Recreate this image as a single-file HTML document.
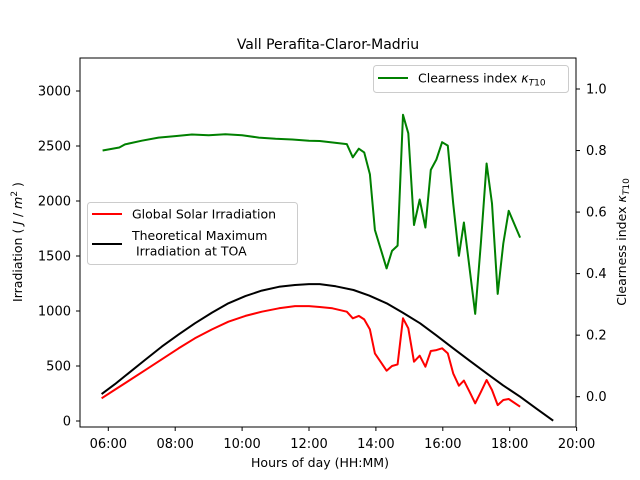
<!DOCTYPE html>
<html><head><meta charset="utf-8"><style>
body{margin:0;background:#fff;}
svg{display:block;font-family:"DejaVu Sans","Liberation Sans",sans-serif;}
</style></head><body>
<svg id="chart" width="640" height="480" viewBox="0 0 640 480" xmlns="http://www.w3.org/2000/svg">
<rect width="640" height="480" fill="#fff"/>
<text x="328" y="49" font-size="14" text-anchor="middle">Vall Perafita-Claror-Madriu</text>
<g id="marks"></g>
<rect x="80" y="58" width="496" height="369" fill="none" stroke="#000" stroke-width="1"/>
<g id="axes" font-size="13"></g>
<text x="320" y="467" font-size="12.5" text-anchor="middle">Hours of day (HH:MM)</text>
<text transform="translate(22,242) rotate(-90)" font-size="12.5" text-anchor="middle">Irradiation  ( <tspan font-style="italic">J</tspan> / <tspan font-style="italic">m</tspan><tspan dy="-5" font-size="9">2</tspan><tspan dy="5"> )</tspan></text>
<text transform="translate(626,242) rotate(-90)" font-size="12.5" text-anchor="middle">Clearness index <tspan font-style="italic">κ</tspan><tspan font-size="9" dy="3" font-style="italic">T</tspan><tspan font-size="9">10</tspan></text>
<g>
<rect x="87.5" y="202.5" width="210" height="62" rx="3" fill="#fff" fill-opacity="0.8" stroke="#ccc"/>
<line x1="92" y1="214" x2="122" y2="214" stroke="red" stroke-width="2"/>
<text x="132" y="218.5" font-size="12.5">Global Solar Irradiation</text>
<line x1="92" y1="244" x2="122" y2="244" stroke="#000" stroke-width="2"/>
<text x="132" y="240" font-size="12.5">Theoretical Maximum</text>
<text x="136" y="255.5" font-size="12.5">Irradiation at TOA</text>
</g>
<g>
<rect x="373.5" y="65.5" width="195" height="27" rx="3" fill="#fff" fill-opacity="0.8" stroke="#ccc"/>
<line x1="378" y1="78" x2="408" y2="78" stroke="green" stroke-width="2"/>
<text x="418" y="82.5" font-size="12.5">Clearness index <tspan font-style="italic">κ</tspan><tspan font-size="9" dy="3" font-style="italic">T</tspan><tspan font-size="9">10</tspan></text>
</g>
</svg>
<script>
const xTickHours = [6, 8, 10, 12, 14, 16, 18, 20];
const xTickLabels = ["06:00", "08:00", "10:00", "12:00", "14:00", "16:00", "18:00", "20:00"];
const leftTicks = [0, 500, 1000, 1500, 2000, 2500, 3000];
const rightTicks = [0.0, 0.2, 0.4, 0.6, 0.8, 1.0];
const rightTickLabels = ["0.0", "0.2", "0.4", "0.6", "0.8", "1.0"];
const globalTimes = [5.80,6.2,6.6,7.1,7.6,8.1,8.59,9.1,9.59,10.1,10.59,11.1,11.58,12.0,12.32,12.7,13.13,13.31,13.49,13.65,13.82,13.97,14.32,14.48,14.65,14.81,14.97,15.14,15.31,15.48,15.64,15.81,15.98,16.15,16.31,16.48,16.63,16.81,16.97,17.14,17.31,17.47,17.64,17.81,17.97,18.31];
const globalValues = [206,285,364,462,561,660,752,833,903,955,994,1025,1045,1045,1036,1025,994,934,955,924,833,615,457,500,515,934,843,539,594,494,636,645,661,615,433,321,367,260,161,265,373,282,145,191,200,130];
const toaTimes = [5.8,6.2,6.6,7.1,7.6,8.1,8.59,9.1,9.59,10.1,10.59,11.1,11.58,12.0,12.32,12.8,13.33,13.8,14.32,14.8,15.32,15.8,16.31,16.8,17.31,17.8,18.31,18.8,19.30];
const toaValues = [245,335,434,555,676,785,888,985,1070,1135,1185,1220,1236,1245,1245,1225,1191,1140,1070,985,888,780,661,548,434,325,221,112,3];
const kTimes = [5.83,6.33,6.5,7,7.5,8,8.5,9,9.5,10,10.5,11,11.5,12,12.32,13.13,13.31,13.49,13.65,13.82,13.97,14.32,14.48,14.65,14.81,14.97,15.14,15.31,15.48,15.64,15.81,15.98,16.15,16.31,16.48,16.63,16.97,17.14,17.31,17.47,17.64,17.81,17.97,18.31];
const kValues = [0.80,0.81,0.82,0.832,0.842,0.847,0.852,0.850,0.853,0.850,0.842,0.838,0.836,0.832,0.831,0.821,0.778,0.806,0.794,0.723,0.542,0.417,0.474,0.491,0.916,0.856,0.558,0.641,0.550,0.737,0.771,0.827,0.816,0.628,0.458,0.566,0.269,0.50,0.758,0.628,0.334,0.498,0.604,0.517];

const NS = "http://www.w3.org/2000/svg";
const X = h => 108.3 + (h - 6) * 33.45;
const YL = v => 421 - v * 0.11;
const YR = k => 396.7 - k * 307.7;
const marks = document.getElementById('marks');
const axes = document.getElementById('axes');

function mk(tag, attrs, parent) {
  const e = document.createElementNS(NS, tag);
  for (const k in attrs) e.setAttribute(k, attrs[k]);
  parent.appendChild(e);
  return e;
}
function line(times, vals, yf, color, name) {
  const pts = times.map((t, i) => X(t).toFixed(1) + ',' + yf(vals[i]).toFixed(1)).join(' ');
  const p = mk('polyline', {points: pts, fill: 'none', stroke: color, 'stroke-width': 2, 'stroke-linejoin': 'round'}, marks);
  
  
}
line(toaTimes, toaValues, YL, '#000', 'toa-irradiation-line');
line(globalTimes, globalValues, YL, 'red', 'global-irradiation-line');
line(kTimes, kValues, YR, 'green', 'clearness-index-line');

xTickHours.forEach((h, i) => {
  const x = X(h);
  const t = mk('line', {x1: x, y1: 427, x2: x, y2: 431, stroke: '#000'}, axes);
  
  
  const l = mk('text', {x: x, y: 448, 'text-anchor': 'middle'}, axes);
  l.textContent = xTickLabels[i];
  
  
});
leftTicks.forEach(v => {
  const y = YL(v);
  const t = mk('line', {x1: 76, y1: y, x2: 80, y2: y, stroke: '#000'}, axes);
  
  
  const l = mk('text', {x: 71, y: y + 4.5, 'text-anchor': 'end'}, axes);
  l.textContent = String(v);
  
  
});
rightTicks.forEach((v, i) => {
  const y = YR(v);
  const t = mk('line', {x1: 576, y1: y, x2: 580, y2: y, stroke: '#000'}, axes);
  
  
  const l = mk('text', {x: 586, y: y + 4.5}, axes);
  l.textContent = rightTickLabels[i];
  
  
});
</script>
</body></html>
